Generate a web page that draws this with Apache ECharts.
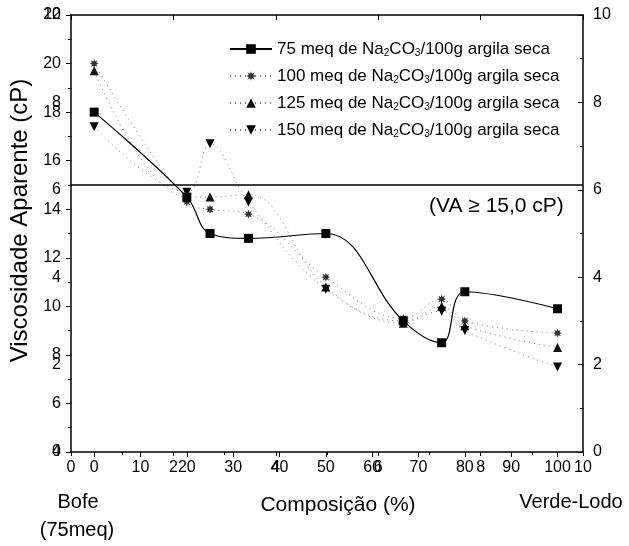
<!DOCTYPE html>
<html>
<head>
<meta charset="utf-8">
<script src="https://cdn.jsdelivr.net/npm/echarts@6/dist/echarts.min.js"></script>
<style>html,body{margin:0;padding:0;background:#fff;}#c{width:629px;height:546px;}</style>
</head>
<body>
<div id="c"></div>
<script>
// Composição (%) of Verde-Lodo in the blend
const composicao = [0, 20, 25, 33.3, 50, 66.7, 75, 80, 100];
// Viscosidade Aparente (cP)
const va75  = [18.0, 14.5, 13.0, 12.8, 13.0, 9.4, 8.5, 10.6, 9.9];
const va100 = [20.0, 14.3, 14.0, 13.8, 11.2, 9.5, 10.3, 9.4, 8.9];
const va125 = [19.7, 14.5, 14.5, 14.6, 10.8, 9.3, 10.0, 9.2, 8.3];
const va150 = [17.4, 14.7, 16.7, 14.3, 10.7, 9.4, 9.8, 9.0, 7.5];
const seriesNames = ['75 meq', '100 meq', '125 meq', '150 meq'];
const limiteVA = 15.0;
const xTickLabels = [0, 10, 20, 30, 40, 50, 60, 70, 80, 90, 100];

const FONT = 'Liberation Sans, Arial, sans-serif';
const pairs = a => composicao.map((x, i) => [x, a[i]]);
const starPath = 'path://M5,0 L2.4,0.99 L3.54,3.54 L0.99,2.4 L0,5 L-0.99,2.4 L-3.54,3.54 L-2.4,0.99 L-5,0 L-2.4,-0.99 L-3.54,-3.54 L-0.99,-2.4 L0,-5 L0.99,-2.4 L3.54,-3.54 L2.4,-0.99 Z';

const chart = echarts.init(document.getElementById('c'), null, {renderer: 'canvas'});
const axisCommon = {
  axisLine: {show: true, onZero: false, lineStyle: {color: '#000', width: 1.5}},
  splitLine: {show: false},
  axisLabel: {color: '#000', fontSize: 16, fontFamily: FONT}
};
const dotted = {color: '#777', width: 1, type: [1, 4]};

chart.setOption({
  animation: false,
  backgroundColor: '#fff',
  textStyle: {fontFamily: FONT, color: '#000'},
  grid: {left: 71, right: 46, top: 15, bottom: 94, containLabel: false},
  legend: {
    orient: 'vertical', left: 224, top: 35, itemGap: 9, itemWidth: 42, itemHeight: 12,
    data: seriesNames,
    formatter: n => n + ' de Na{sub|2}CO{sub|3}/100g argila seca',
    textStyle: {fontSize: 17, fontFamily: FONT, color: '#000', lineHeight: 18,
      rich: {sub: {fontSize: 10, fontFamily: FONT, color: '#000', lineHeight: 10, verticalAlign: 'bottom'}}}
  },
  xAxis: [
    Object.assign({}, axisCommon, {
      type: 'value', position: 'bottom', min: -5, max: 105.5,
      axisTick: {show: true, inside: false, length: 5, customValues: xTickLabels, lineStyle: {color: '#000'}},
      axisLabel: Object.assign({}, axisCommon.axisLabel, {margin: 8, customValues: xTickLabels}),
      name: 'Composição (%)', nameLocation: 'middle', nameGap: 43,
      nameTextStyle: {fontSize: 21, fontFamily: FONT, color: '#000', padding: [0, 0, 0, 22]}
    }),
    Object.assign({}, axisCommon, {
      type: 'value', position: 'bottom', min: 0, max: 10, interval: 2,
      axisLine: {show: false},
      axisTick: {show: true, inside: false, length: 4, lineStyle: {color: '#000'}},
      minorTick: {show: true, splitNumber: 2, length: 3, lineStyle: {color: '#000'}},
      axisLabel: Object.assign({}, axisCommon.axisLabel, {margin: 8})
    }),
    Object.assign({}, axisCommon, {
      type: 'value', position: 'top', min: 0, max: 10, interval: 2,
      axisTick: {show: true, inside: true, length: 5, lineStyle: {color: '#000'}},
      axisLabel: {show: false}
    })
  ],
  yAxis: [
    Object.assign({}, axisCommon, {
      type: 'value', position: 'left', min: 4, max: 22, interval: 2,
      axisTick: {show: true, inside: false, length: 5, lineStyle: {color: '#000'}},
      minorTick: {show: true, splitNumber: 2, length: 3, lineStyle: {color: '#000'}},
      axisLabel: Object.assign({}, axisCommon.axisLabel, {margin: 10}),
      name: 'Viscosidade Aparente (cP)', nameLocation: 'middle', nameGap: 38,
      nameTextStyle: {fontSize: 24, fontFamily: FONT, color: '#000', padding: [0, 0, 0, 26]}
    }),
    Object.assign({}, axisCommon, {
      type: 'value', position: 'left', min: 0, max: 10, interval: 2,
      axisLine: {show: false},
      axisTick: {show: false},
      axisLabel: Object.assign({}, axisCommon.axisLabel, {margin: 10})
    }),
    Object.assign({}, axisCommon, {
      type: 'value', position: 'right', min: 0, max: 10, interval: 2,
      axisTick: {show: true, inside: true, length: 5, lineStyle: {color: '#000'}},
      minorTick: {show: true, splitNumber: 2, length: 3, lineStyle: {color: '#000'}},
      axisLabel: Object.assign({}, axisCommon.axisLabel, {margin: 10})
    })
  ],
  series: [
    {name: seriesNames[0], type: 'line', xAxisIndex: 0, yAxisIndex: 0, data: pairs(va75), smooth: 0.4,
      symbol: 'rect', symbolSize: 9, itemStyle: {color: '#000'}, lineStyle: {color: '#000', width: 1.2}, z: 5,
      markLine: {silent: true, symbol: ['none', 'none'], label: {show: false},
        lineStyle: {color: '#000', width: 1.5, type: 'solid'}, data: [{yAxis: limiteVA}]}},
    {name: seriesNames[1], type: 'line', xAxisIndex: 0, yAxisIndex: 0, data: pairs(va100), smooth: 0.4,
      symbol: starPath, symbolSize: 9, itemStyle: {color: '#333'}, lineStyle: dotted},
    {name: seriesNames[2], type: 'line', xAxisIndex: 0, yAxisIndex: 0, data: pairs(va125), smooth: 0.4,
      symbol: 'triangle', symbolSize: 9, itemStyle: {color: '#111'}, lineStyle: dotted},
    {name: seriesNames[3], type: 'line', xAxisIndex: 0, yAxisIndex: 0, data: pairs(va150), smooth: 0.4,
      symbol: 'triangle', symbolRotate: 180, symbolSize: 9, itemStyle: {color: '#000'}, lineStyle: dotted}
  ],
  graphic: [
    {type: 'text', left: 429, top: 196, style: {text: '(VA \u2265 15,0 cP)', font: '21px ' + FONT, fill: '#000'}},
    {type: 'text', x: 78, y: 502, style: {text: 'Bofe', font: '20px ' + FONT, fill: '#000', align: 'center', verticalAlign: 'middle'}},
    {type: 'text', x: 77, y: 530, style: {text: '(75meq)', font: '20px ' + FONT, fill: '#000', align: 'center', verticalAlign: 'middle'}},
    {type: 'text', x: 571, y: 502, style: {text: 'Verde-Lodo', font: '20px ' + FONT, fill: '#000', align: 'center', verticalAlign: 'middle'}}
  ]
});
</script>
</body>
</html>
